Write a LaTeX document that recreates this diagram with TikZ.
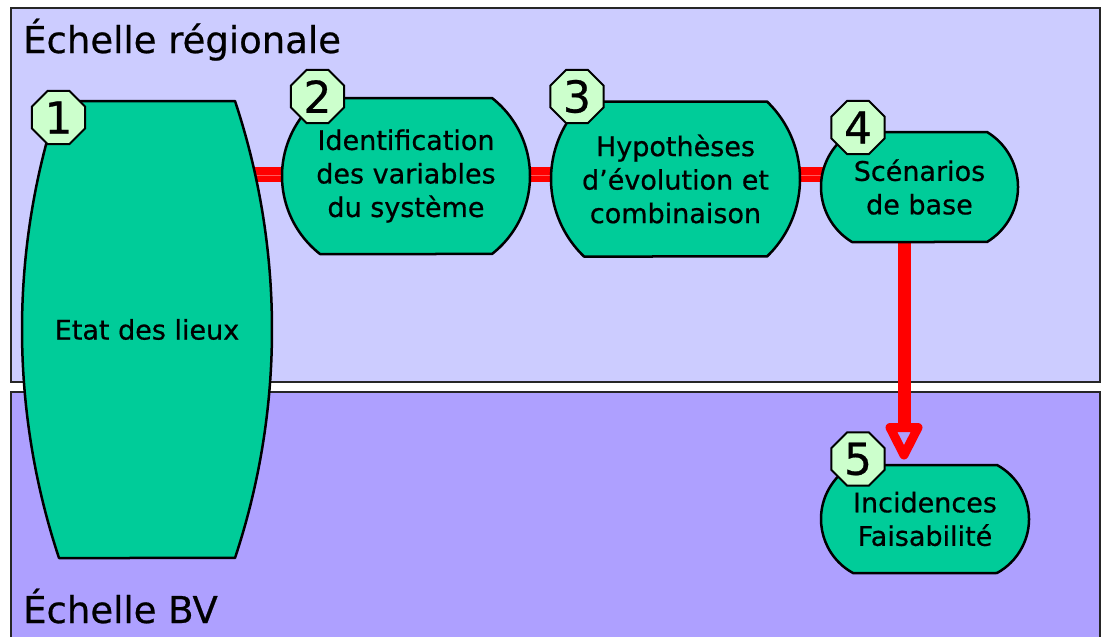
\documentclass[tikz,border=0pt]{standalone}
\usepackage{fontspec}
\setmainfont{DejaVu Sans}[FakeBold=0.6]
\usetikzlibrary{shapes.geometric,calc}
\pgfdeclarelayer{bg}
\pgfdeclarelayer{links}
\pgfdeclarelayer{shapes}
\pgfsetlayers{bg,links,shapes,main}
\definecolor{panelA}{HTML}{CCCCFF}
\definecolor{panelB}{HTML}{AEA0FF}
\definecolor{boxgreen}{HTML}{00CC99}
\definecolor{badgegreen}{HTML}{CCFFCC}
\definecolor{linkred}{HTML}{FF0000}
\definecolor{linkstripe}{HTML}{FF5A5A}
% outline of a step box: flat top and bottom, circular arcs left and right
% #1 node name, #2 sagitta of the side arcs (pt)
\newcommand\drawstepshape[2]{%
  \begin{pgfonlayer}{shapes}
  \draw[stepline] let \p1=(#1.north west), \p2=(#1.south east),
    \n1={#2pt}, \n2={abs(\y1-\y2)/2},
    \n3={\n2*scalar(\n2/(2*\n1))+\n1/2},
    \n4={scalar(asin(scalar(\n2/\n3)))} in
    (\x1+\n1,\y1) -- (\x2-\n1,\y1)
    arc[start angle=\n4, end angle=-\n4, radius=\n3]
    -- (\x1+\n1,\y2)
    arc[start angle=180+\n4, end angle=180-\n4, radius=\n3] -- cycle;
  \end{pgfonlayer}}
\begin{document}
\begin{tikzpicture}[x=1pt,y=-1pt,
  panel/.style={draw=black!85, line width=1.2pt, inner sep=0pt, outer sep=0pt, anchor=north west},
  stepbox/.style={rectangle, inner sep=0pt, outer sep=0pt, align=center, font=\fontsize{27}{33.5}\selectfont},
  stepline/.style={draw=black, line width=2.5pt, fill=boxgreen, line join=round},
  badge/.style={regular polygon, regular polygon sides=8, draw=black, line width=2pt, fill=badgegreen, inner sep=0pt, minimum size=57.4pt, font=\fontsize{44}{44}\selectfont},
  link/.style={linkred, line width=14.5pt},
  stripe/.style={linkstripe, line width=1.2pt},
  arrowshaft/.style={linkred, line width=13pt},
  arrowhead/.style={linkred, line width=9pt, line join=round},
  title/.style={anchor=base west, inner sep=0pt, font=\fontsize{37}{37}\selectfont}]
\useasboundingbox (0,0) rectangle (1106,637);

% step boxes
\node[stepbox, minimum width=250pt, minimum height=457pt] (b1) at (147,329.5) {Etat des lieux};
\node[stepbox, minimum width=248pt, minimum height=156pt] (b2) at (406,176) {Identification\\des variables\\du système};
\node[stepbox, minimum width=249pt, minimum height=155pt] (b3) at (675.5,179) {Hypothèses\\d’évolution et\\combinaison};
\node[stepbox, minimum width=197pt, minimum height=110pt] (b4) at (919.5,187) {Scénarios\\de base};
\node[stepbox, minimum width=208pt, minimum height=108pt] (b5) at (925,519) {Incidences\\Faisabilité};
\drawstepshape{b1}{37}
\drawstepshape{b2}{38}
\drawstepshape{b3}{33}
\drawstepshape{b4}{31}
\drawstepshape{b5}{32}

% badges
\node[badge] (n1) at (58.5,117.5) {1};
\node[badge] (n2) at (317.5,96.5) {2};
\node[badge] (n3) at (577,96.5) {3};
\node[badge] (n4) at (858,127.5) {4};
\node[badge] (n5) at (858,459) {5};

\begin{pgfonlayer}{bg}
  \fill[white] (0,0) rectangle (1106,637);
  \node[panel, fill=panelA, minimum width=1089pt, minimum height=374pt] (pA) at (11,8) {};
  \node[panel, fill=panelB, minimum width=1089pt, minimum height=260pt] (pB) at (11,392) {};
  \node[title] (tA) at (23,53) {Échelle régionale};
  \node[title] (tB) at (23,623) {Échelle BV};
\end{pgfonlayer}

\begin{pgfonlayer}{links}
  % horizontal connectors
  \coordinate (ly) at (0,174.5);
  \coordinate (ls) at (0,175.5);
  \foreach \a/\b in {b1/b2,b2/b3,b3/b4}{
    \draw[link] (\a.center |- ly) -- (\b.center |- ly);
    \draw[stripe] (\a.center |- ls) -- (\b.center |- ls);
  }
  % vertical arrow
  \coordinate (ax) at (904,0);
  \coordinate (tb) at ($(b5.north -| ax)+(0,-37.5)$);
  \coordinate (tip) at ($(b5.north -| ax)+(0,-10)$);
  \draw[arrowshaft] (b4.south -| ax) -- (tb);
  \draw[arrowhead] ($(tb)+(-14,0)$) -- ($(tb)+(14,0)$) -- (tip) -- cycle;
\end{pgfonlayer}
\end{tikzpicture}
\end{document}
